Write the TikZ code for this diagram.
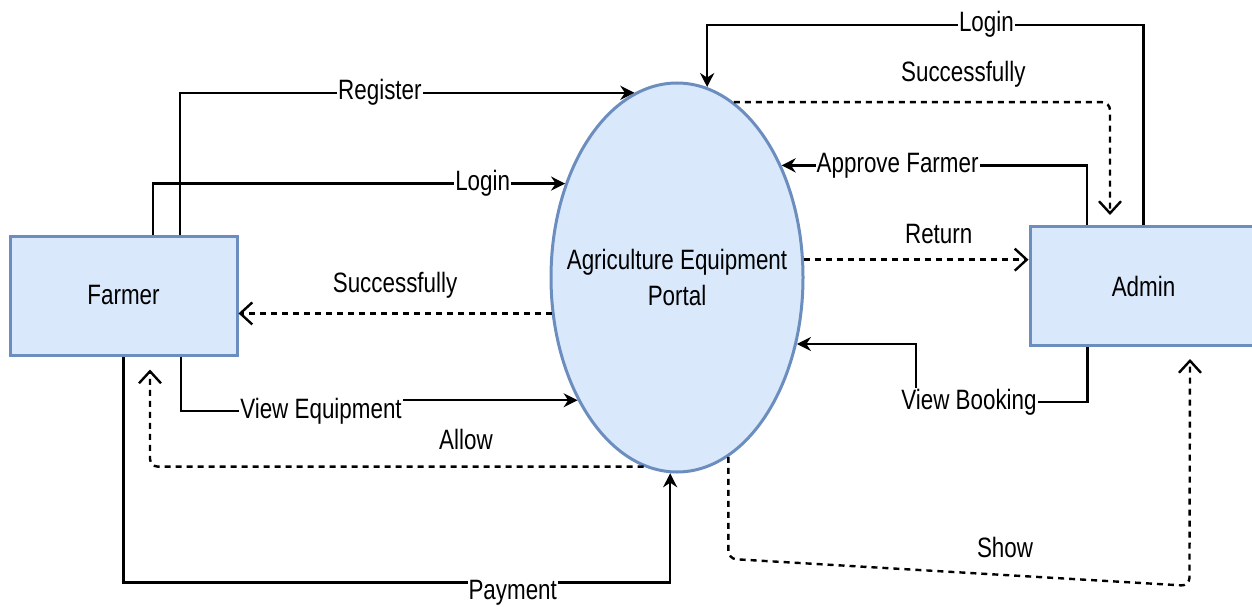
\documentclass[tikz,border=0pt]{standalone}
\usepackage{fontspec}
\setmainfont{Liberation Sans}[FakeStretch=0.8]
\usetikzlibrary{shapes.geometric,arrows.meta}
\definecolor{boxfill}{HTML}{DAE8FC}
\definecolor{boxline}{HTML}{6C8EBF}

\begin{document}
\begin{tikzpicture}[x=1pt, y=-1pt, font=\fontsize{28}{36}\selectfont,
  entity/.style={draw=boxline, fill=boxfill, line width=3pt, minimum width=227pt, minimum height=119pt},
  process/.style={ellipse, draw=boxline, fill=boxfill, line width=3pt, minimum width=252pt, minimum height=389pt, inner sep=0pt},
  flow/.style={line width=2.4pt, -{Stealth[length=14pt,width=14pt]}},
  reply/.style={line width=2.4pt, dash pattern=on 6pt off 5pt, rounded corners=8pt, -{Straight Barb[length=12pt,width=22pt]}},
  lbl/.style={fill=white, inner sep=1pt, text height=20pt, text depth=6pt},
  note/.style={inner sep=1pt, text height=20pt, text depth=6pt}]
  \useasboundingbox (0,0) rectangle (1252,607);

  \node[entity] (farmer) at (123.5,295.5) {Farmer};
  \node[entity] (admin) at (1143.5,286) {Admin};
  \node[process] (portal) at (677,277.5) {};
  \node[align=center] (portaltext) at (portal.center) {Agriculture Equipment\\Portal};

  % farmer side
  \draw[flow] ([xshift=56.5pt]farmer.north) |- node[lbl, pos=0.72] (lreg) {Register} (portal.103.5);
  \draw[flow] ([xshift=29.5pt]farmer.north) |- node[lbl, pos=0.9] (llogf) {Login} (portal.140.5);
  \draw[reply] (portal.196) -- node[note, above=13pt] (lsucf) {Successfully} (portal.196 -| farmer.east);
  \draw[flow] ([xshift=57.5pt]farmer.south) |- (321,411) node[lbl] (lvieweq) {View Equipment} |- (portal.231);
  \draw[reply] (portal.260.7) -| node[note, pos=0.18, above=9pt] (lallow) {Allow} ([xshift=26.5pt, yshift=-13pt]farmer.south);
  \draw[flow] (farmer.south) -- ++(0,226) -| node[lbl, pos=0.356, yshift=-10pt] (lpay) {Payment} (portal.268.2);

  % admin side
  \draw[flow] (admin.north) -- ++(0,-200) -| node[lbl, pos=0.18] (lloga) {Login} (portal.81.6);
  \draw[reply] (portal.72.8) -| node[note, pos=0.305, above=12pt] (lsuca) {Successfully} ([xshift=-33.5pt, yshift=10pt]admin.north);
  \draw[flow] ([xshift=-56.5pt]admin.north) |- node[lbl, pos=0.81] (lappr) {Approve Farmer} (portal.47.2);
  \draw[reply] (portal.8.8) -- node[note, pos=0.6, above=8pt] (lret) {Return} (portal.8.8 -| admin.west);
  \draw[flow] ([xshift=-56pt]admin.south) |- (969,402) node[lbl] (lbook) {View Booking} -- (916,402) |- (portal.331.5);
  \draw[reply] (portal.286.4) -- ++(0,102) -- node[note, pos=0.6, above=9pt] (lshow) {Show} ++(461,27) -- ([xshift=46.5pt, yshift=-12pt]admin.south);
\end{tikzpicture}
\end{document}
